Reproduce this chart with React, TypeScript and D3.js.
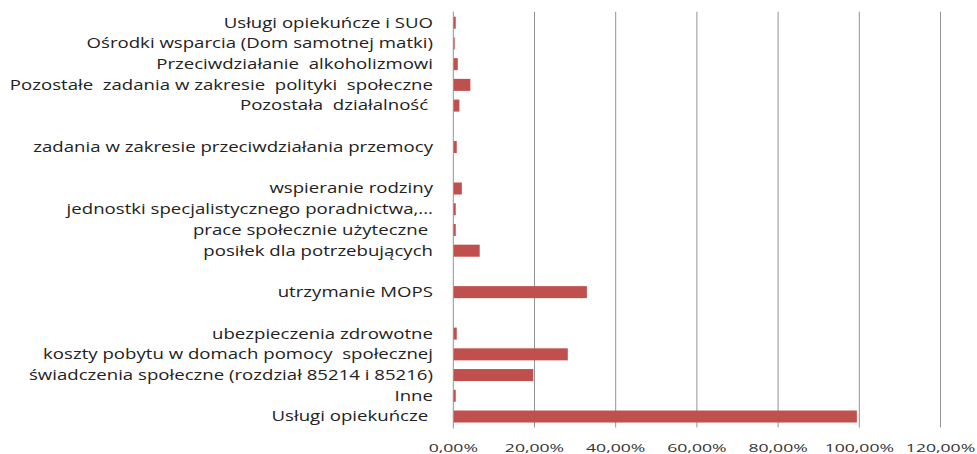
import React from "react";
import * as d3 from "d3";

const categories: string[] = [
  "Usługi opiekuńcze i SUO",
  "Ośrodki wsparcia (Dom samotnej matki)",
  "Przeciwdziałanie  alkoholizmowi",
  "Pozostałe  zadania w zakresie  polityki  społeczne",
  "Pozostała  działalność ",
  "",
  "zadania w zakresie przeciwdziałania przemocy",
  "",
  "wspieranie rodziny",
  "jednostki specjalistycznego poradnictwa,...",
  "prace społecznie użyteczne ",
  "posiłek dla potrzebujących",
  "",
  "utrzymanie MOPS",
  "",
  "ubezpieczenia zdrowotne",
  "koszty pobytu w domach pomocy  społecznej",
  "świadczenia społeczne (rozdział 85214 i 85216)",
  "Inne",
  "Usługi opiekuńcze ",
];

const values: (number | null)[] = [
  0.006, 0.0035, 0.011, 0.042, 0.015, null, 0.0085, null, 0.021, 0.006, 0.006, 0.065,
  null, 0.329, null, 0.0085, 0.282, 0.197, 0.006, 0.994,
];

const ticks: number[] = [0, 0.2, 0.4, 0.6, 0.8, 1.0, 1.2];

const W = 977;
const H = 454;
const M = { left: 453.3, right: 36.5, top: 11.7, bottom: 26.5 };

export default function App() {
  const x = d3.scaleLinear().domain([0, 1.2]).range([M.left, W - M.right]);
  const idx = categories.map((_, i) => String(i));
  const y = d3.scaleBand().domain(idx).range([M.top, H - M.bottom]).paddingInner(0.42).paddingOuter(0.24);
  const fmt = (v: number) => (v * 100).toFixed(2).replace(".", ",") + "%";
  const font = "'Open Sans', sans-serif";
  return (
    <svg width={W} height={H} style={{ position: "absolute", left: 0, top: 0 }}>
      <rect width={W} height={H} fill="#fff" />
      {ticks.slice(1).map((t) => (
        <line key={t} x1={x(t)} x2={x(t)} y1={M.top} y2={H - M.bottom} stroke="#939393" strokeWidth={1} />
      ))}
      {values.map((v, i) =>
        v == null ? null : (
          <rect key={i} x={x(0)} y={y(String(i))} width={x(v) - x(0)} height={y.bandwidth()} fill="#C0504D" />
        )
      )}
      <line x1={x(0)} x2={x(0)} y1={M.top} y2={H - M.bottom + 1} stroke="#939393" strokeWidth={1} />
      {categories.map((c, i) => (
        <text
          key={i}
          transform={`translate(433,${(y(String(i)) as number) + y.bandwidth() / 2}) scale(1.33,1)`}
          textAnchor="end"
          dy="0.35em"
          fontFamily={font}
          fontSize={14}
          fill="#222"
          style={{ whiteSpace: "pre" }}
        >
          {c}
        </text>
      ))}
      {ticks.map((t) => (
        <text
          key={t}
          transform={`translate(${x(t)},452) scale(1.6,1)`}
          textAnchor="middle"
          fontFamily={font}
          fontSize={11}
          fill="#333"
        >
          {fmt(t)}
        </text>
      ))}
    </svg>
  );
}
